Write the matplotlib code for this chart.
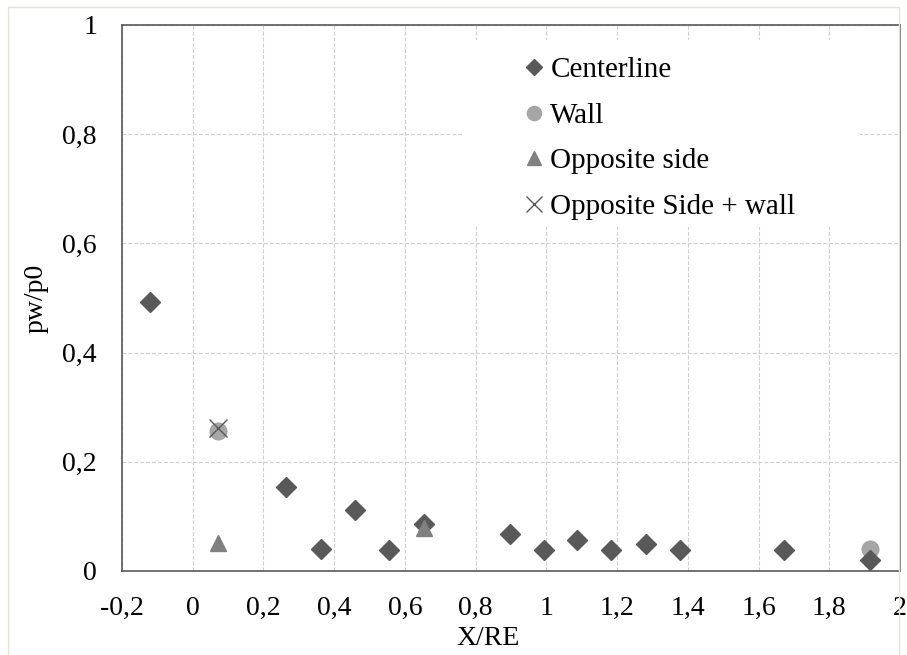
import matplotlib.pyplot as plt
from matplotlib.patches import Rectangle

# Dados
x_center = [-0.12, 0.263, 0.362, 0.458, 0.554, 0.653, 0.896, 0.994, 1.088, 1.184, 1.282, 1.378, 1.672, 1.915]
y_center = [0.492, 0.154, 0.040, 0.112, 0.038, 0.086, 0.068, 0.038, 0.057, 0.038, 0.049, 0.038, 0.038, 0.021]
x_wall = [0.071, 1.915]
y_wall = [0.256, 0.040]
x_opp = [0.071, 0.653]
y_opp = [0.051, 0.079]
x_oppwall = [0.071]
y_oppwall = [0.262]

xticks = [-0.2, 0, 0.2, 0.4, 0.6, 0.8, 1, 1.2, 1.4, 1.6, 1.8, 2]
yticks = [0, 0.2, 0.4, 0.6, 0.8, 1]

plt.rcParams['font.family'] = ['Liberation Serif', 'DejaVu Serif']

fig = plt.figure(figsize=(9.07, 6.55), dpi=100)
fig.patches.append(Rectangle((0.009, -0.01), 0.982, 1.0, transform=fig.transFigure,
                             fill=False, edgecolor="#e4e4da", linewidth=1))
ax = fig.add_axes([122/907, 1-571/655, 778/907, 546/655])

ax.plot(x_center, y_center, "D", color="#595959", markersize=10, label="Centerline", zorder=3)
ax.plot(x_wall, y_wall, "o", color="#a6a6a6", markersize=12, label="Wall", zorder=2)
ax.plot(x_opp, y_opp, "^", color="#808080", markersize=12, label="Opposite side", zorder=4)
ax.plot(x_oppwall, y_oppwall, "x", color="#595959", markersize=13, markeredgewidth=1,
        label="Opposite Side + wall", zorder=5)

ax.set_xlim(-0.2, 2)
ax.set_ylim(0, 1)
ax.set_xticks(xticks)
ax.set_yticks(yticks)
ax.set_xticklabels([("%g" % v).replace(".", ",") for v in xticks])
ax.set_yticklabels([("%g" % v).replace(".", ",") for v in yticks])
ax.tick_params(length=0, labelsize=20)
ax.tick_params(axis="y", pad=18)
ax.tick_params(axis="x", pad=18)
ax.grid(True, linestyle="--", color="#cfcfcf", linewidth=0.8)
ax.set_axisbelow(True)
for s in ax.spines.values():
    s.set_color("#595959")
    s.set_linewidth(1.2)

ax.set_xlabel("X/RE", fontsize=20)
ax.xaxis.set_label_coords(0.47, -0.1)
ax.set_ylabel("pw/p0", fontsize=20, labelpad=10)

# fundo branco da legenda (esconde a grade)
ax.add_patch(Rectangle((0.437, 0.63), 0.512, 0.3425, transform=ax.transAxes,
                       facecolor="white", edgecolor="none", zorder=1))

leg = ax.legend(loc="upper left", bbox_to_anchor=(0.515, 0.942), fontsize=21, frameon=False,
                handletextpad=0.15, handlelength=0.8, labelspacing=0.66, borderpad=0,
                borderaxespad=0, markerscale=0.85)
leg.set_zorder(6)

plt.savefig("out.png")
plt.close()
